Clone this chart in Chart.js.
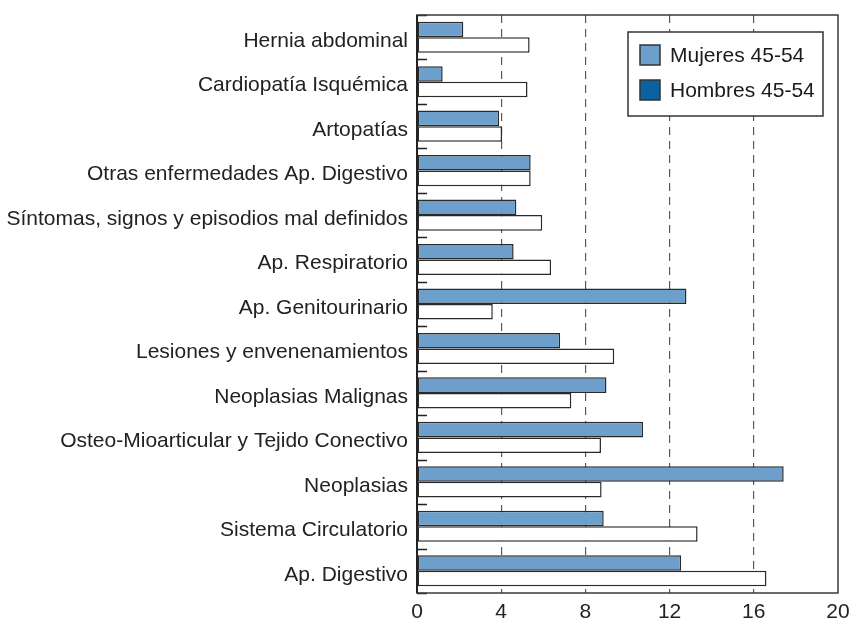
<!DOCTYPE html>
<html><head><meta charset="utf-8">
<script src="https://cdn.jsdelivr.net/npm/chart.js@4"></script>
<style>html,body{margin:0;padding:0;background:#fff}#wrap{width:852px;height:622px}</style>
</head><body><div id="wrap"><canvas id="c" width="852" height="622"></canvas></div>
<script>
const categories = [
  "Hernia abdominal",
  "Cardiopatía Isquémica",
  "Artopatías",
  "Otras enfermedades Ap. Digestivo",
  "Síntomas, signos y episodios mal definidos",
  "Ap. Respiratorio",
  "Ap. Genitourinario",
  "Lesiones y envenenamientos",
  "Neoplasias Malignas",
  "Osteo-Mioarticular y Tejido Conectivo",
  "Neoplasias",
  "Sistema Circulatorio",
  "Ap. Digestivo"
];
const seriesNames = ["Mujeres 45-54", "Hombres 45-54"];
const mujeres = [2.2, 1.22, 3.9, 5.4, 4.72, 4.59, 12.8, 6.8, 9.0, 10.74, 17.42, 8.87, 12.55];
const hombres = [5.35, 5.25, 4.04, 5.4, 5.95, 6.37, 3.6, 9.37, 7.33, 8.74, 8.77, 13.33, 16.6];
const xTickValues = [0, 4, 8, 12, 16, 20];

const FONT = "'Liberation Sans', Arial, Helvetica, sans-serif";
const legendColors = ["#6c9fcc", "#0b62a3"];

const innerTicks = {
  id: 'innerTicks',
  afterDatasetsDraw(chart) {
    const {ctx, chartArea: a, scales: {y}} = chart;
    const n = categories.length;
    const step = y.getPixelForValue(1) - y.getPixelForValue(0);
    ctx.save();
    ctx.strokeStyle = '#222';
    ctx.lineWidth = 1.5;
    ctx.beginPath();
    for (let i = 0; i <= n; i++) {
      const py = Math.round(y.getPixelForValue(0) - step / 2 + i * step) + 0.5;
      ctx.moveTo(a.left, py);
      ctx.lineTo(a.left + 10, py);
    }
    ctx.stroke();
    ctx.strokeStyle = '#3a3a3a';
    ctx.lineWidth = 1.5;
    ctx.strokeRect(a.left, a.top, a.right - a.left, a.bottom - a.top);
    ctx.strokeStyle = '#222';
    ctx.lineWidth = 2;
    ctx.beginPath();
    ctx.moveTo(a.left, a.top); ctx.lineTo(a.left, a.bottom);
    ctx.stroke();
    ctx.restore();
  }
};

const boxLegend = {
  id: 'boxLegend',
  afterDraw(chart) {
    const ctx = chart.ctx;
    const bx = 628, by = 32, bw = 195, bh = 84;
    ctx.save();
    ctx.fillStyle = '#fff';
    ctx.fillRect(bx, by, bw, bh);
    ctx.strokeStyle = '#333';
    ctx.lineWidth = 1.5;
    ctx.strokeRect(bx, by, bw, bh);
    chart.data.datasets.forEach((ds, i) => {
      const cy = 55 + i * 35;
      ctx.fillStyle = legendColors[i];
      ctx.fillRect(640, cy - 10, 20, 20);
      ctx.strokeStyle = '#333';
      ctx.lineWidth = 1.5;
      ctx.strokeRect(640, cy - 10, 20, 20);
      ctx.fillStyle = '#1a1a1a';
      ctx.font = "21px " + FONT;
      ctx.textBaseline = 'middle';
      ctx.textAlign = 'left';
      ctx.fillText(ds.label, 670, cy + 1);
    });
    ctx.restore();
  }
};

new Chart(document.getElementById('c'), {
  type: 'bar',
  data: {
    labels: categories,
    datasets: [
      {label: seriesNames[0], data: mujeres, backgroundColor: '#6c9fcc', borderColor: '#2a2a2a', borderWidth: 1.5, borderSkipped: false},
      {label: seriesNames[1], data: hombres, backgroundColor: '#ffffff', borderColor: '#2a2a2a', borderWidth: 1.5, borderSkipped: false}
    ]
  },
  options: {
    indexAxis: 'y',
    responsive: false,
    animation: false,
    devicePixelRatio: 1,
    categoryPercentage: 0.7,
    barPercentage: 1.0,
    layout: {padding: {top: 15, right: 14, left: 0, bottom: 0}},
    plugins: {legend: {display: false}, tooltip: {enabled: false}},
    scales: {
      x: {
        type: 'linear', min: 0, max: 20,
        afterBuildTicks(scale) { scale.ticks = xTickValues.map(v => ({value: v})); },
        afterFit(scale) { scale.height = 29; scale.paddingLeft = 0; scale.paddingRight = 0; },
        ticks: {color: '#222', font: {family: FONT, size: 21}, padding: 7},
        grid: {
          drawTicks: false,
          color: c => (c.tick && (c.tick.value === 0 || c.tick.value === 20)) ? 'rgba(0,0,0,0)' : '#5a5a5a',
          lineWidth: 1.2
        },
        border: {display: false, dash: [8, 6]}
      },
      y: {
        afterFit(scale) { scale.width = 417; scale.paddingTop = 0; scale.paddingBottom = 0; },
        ticks: {color: '#222', font: {family: FONT, size: 21}, padding: 9, labelOffset: 4},
        grid: {display: false, drawTicks: false},
        border: {display: false}
      }
    }
  },
  plugins: [innerTicks, boxLegend]
});
</script>
</body></html>
